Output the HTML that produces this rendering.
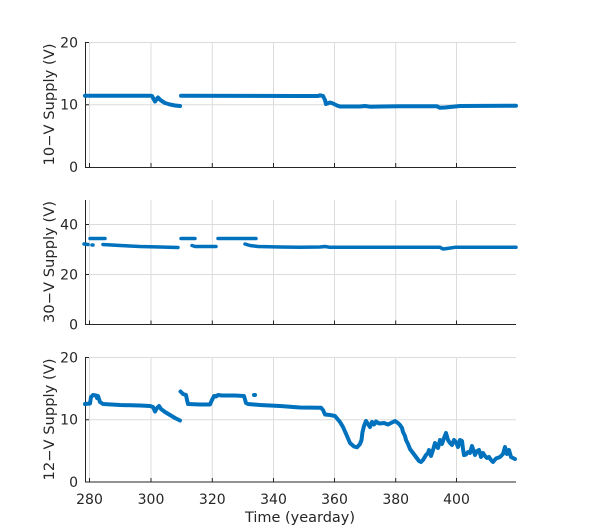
<!DOCTYPE html>
<html><head><meta charset="utf-8">
<style>
html,body{margin:0;padding:0;background:#fff;}
svg{display:block;}
text{font-family:"DejaVu Sans","Liberation Sans",sans-serif;fill:#262626;font-size:14px;}
</style></head>
<body>
<svg width="600" height="525" viewBox="0 0 600 525" xmlns="http://www.w3.org/2000/svg">
<rect width="600" height="525" fill="#fff"/>
<!-- grids -->
<g stroke="#dcdcdc" stroke-width="1" fill="none">
  <!-- plot1 -->
  <line x1="85" y1="42.5" x2="516" y2="42.5"/>
  <line x1="85" y1="104.7" x2="516" y2="104.7"/>
  <!-- plot2 -->
  <line x1="85" y1="224.5" x2="516" y2="224.5"/>
  <line x1="85" y1="274.5" x2="516" y2="274.5"/>
  <!-- plot3 -->
  <line x1="85" y1="357.5" x2="516" y2="357.5"/>
  <line x1="85" y1="419.7" x2="516" y2="419.7"/>
  <!-- verticals -->
  <path d="M89.5 42.5V167 M151 42.5V167 M212.3 42.5V167 M273.5 42.5V167 M334.5 42.5V167 M395.7 42.5V167 M456.5 42.5V167"/>
  <path d="M89.5 200V324.5 M151 200V324.5 M212.3 200V324.5 M273.5 200V324.5 M334.5 200V324.5 M395.7 200V324.5 M456.5 200V324.5"/>
  <path d="M89.5 357.5V482 M151 357.5V482 M212.3 357.5V482 M273.5 357.5V482 M334.5 357.5V482 M395.7 357.5V482 M456.5 357.5V482"/>
</g>
<!-- axes -->
<g stroke="#262626" stroke-width="1" fill="none">
  <path d="M85.5 42.5V167.5H516"/>
  <path d="M85.5 200V324.5H516"/>
  <path d="M85.5 357.5V482H516"/>
  <!-- x ticks -->
  <path d="M89.5 167V163 M151 167V163 M212.3 167V163 M273.5 167V163 M334.5 167V163 M395.7 167V163 M456.5 167V163"/>
  <path d="M89.5 324.5V320.5 M151 324.5V320.5 M212.3 324.5V320.5 M273.5 324.5V320.5 M334.5 324.5V320.5 M395.7 324.5V320.5 M456.5 324.5V320.5"/>
  <path d="M89.5 482V478 M151 482V478 M212.3 482V478 M273.5 482V478 M334.5 482V478 M395.7 482V478 M456.5 482V478"/>
  <!-- y ticks -->
  <path d="M85 42.5H89 M85 104.7H89 M85 224.5H89 M85 274.5H89 M85 357.5H89 M85 419.7H89"/>
</g>
<!-- y tick labels -->
<g text-anchor="end">
  <text x="78" y="47.5">20</text>
  <text x="78" y="109.7">10</text>
  <text x="78" y="172">0</text>
  <text x="78" y="229.5">40</text>
  <text x="78" y="279.5">20</text>
  <text x="78" y="329.5">0</text>
  <text x="78" y="362.5">20</text>
  <text x="78" y="424.7">10</text>
  <text x="78" y="487">0</text>
</g>
<!-- x tick labels -->
<g text-anchor="middle">
  <text x="89.5" y="504">280</text>
  <text x="151" y="504">300</text>
  <text x="212.3" y="504">320</text>
  <text x="273.5" y="504">340</text>
  <text x="334.5" y="504">360</text>
  <text x="395.7" y="504">380</text>
  <text x="456.5" y="504">400</text>
</g>
<text x="300" y="522" text-anchor="middle" textLength="110" lengthAdjust="spacingAndGlyphs">Time (yearday)</text>
<!-- y labels -->
<text transform="translate(54,104.5) rotate(-90)" text-anchor="middle" textLength="122" lengthAdjust="spacingAndGlyphs">10−V Supply (V)</text>
<text transform="translate(54,262) rotate(-90)" text-anchor="middle" textLength="122" lengthAdjust="spacingAndGlyphs">30−V Supply (V)</text>
<text transform="translate(54,419.5) rotate(-90)" text-anchor="middle" textLength="122" lengthAdjust="spacingAndGlyphs">12−V Supply (V)</text>

<!-- data -->
<g stroke="#0072BD" stroke-width="4" fill="none" stroke-linecap="round" stroke-linejoin="round">
  <!-- plot 1 -->
  <polyline points="85,95.7 150,95.7 152,96 155,101.5 158,97.5 161,100.5 165,103 170,104.5 175,105.5 180,106"/>
  <polyline points="181,95.7 300,96 318,96 320,95.3 323,96 325,100 326,104 330,102.5 333,103.5 337,105.5 340,106.5 360,106.5 365,106 370,106.7 400,106.3 437,106.3 440,107.8 445,107.5 450,107 460,106 516,105.7"/>
  <!-- plot 2 -->
  <g stroke-width="3.5">
  <polyline points="84,244 88,244.5"/>
  <polyline points="92,245 93,245"/>
  <polyline points="90,238.5 105,238.5"/>
  <polyline points="103,244.5 120,245.5 140,246.5 160,247 178,247.5"/>
  <polyline points="181,238.5 195,238.5"/>
  <polyline points="192,245.5 195,246.5 216,246.5"/>
  <polyline points="218,238.5 256,238.5"/>
  <polyline points="245,244 250,245.5 258,246.5 280,247 300,247.3 320,247 325,246.5 330,247.3 440,247.3 443,249 447,248.5 455,247.3 516,247.3"/>
  </g>
  <!-- plot 3 -->
  <polyline points="85,404 90,403.5 91,397 93,395 96,395.5 97,398 98,396 100,402 103,404 120,405 140,405.5 150,406 153,407 155,411.5 157,408 159,406 161,409 165,412 170,415 175,418 180,420.5"/>
  <polyline points="180.5,391.5 183,394 186,395 187,400 188,404 200,404.5 210,404.5 212,400 214,396 216,396.5 218,395 222,395.5 235,395.5 244,396 246,403 248,404 260,405 280,406 300,407.5 321,407.7 323,410 325,414.5 330,415 335,416 340,422 343,427 347,436 350,443 354,446.5 357,447.3 360,444 361.5,440 362.5,432 364,426 366,421 368,424 370,427 372,422 374,424.5 376,421.5 378,423 380,423.5 384,423 388,424.5 392,422.5 395,421 398,423 400,425 402,428 403,432 405,436 406,440 408,444 410,449 413,453 416,457 419,461 421,462 423,460 426,455 428,453 429,450 431,456 433,450 435,443 437,447 438,448 440,440 442,444 444,438 446,433 448,440 450,443 452,445 454,440 456,442 458,447 460,440 462,441 463,449 464,455 466,454.5 468,452 470,453 472,446 474,452 475,455 477,451 479,450 481,457 483,453 485,456 487,458 489,457 491,460 493,462 496,458.5 500,457 503,454 505,447 507,454 509,450 511,457 513,458 515,459"/>
  <polyline points="254,395 255,395"/>
</g>
</svg>
</body></html>
